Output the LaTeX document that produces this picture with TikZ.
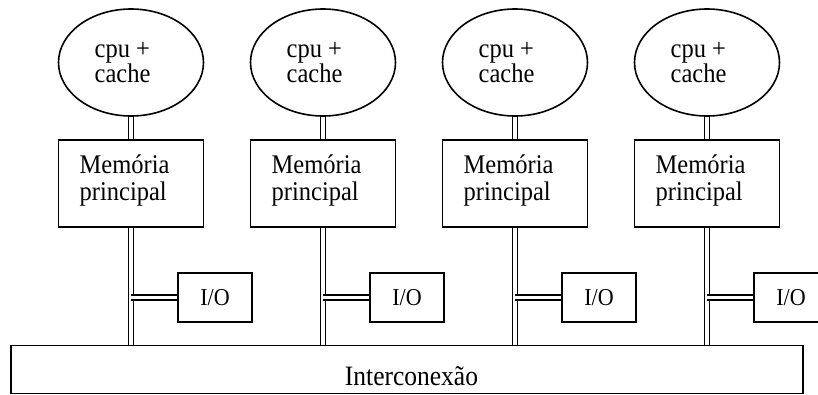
\documentclass[tikz,border=0pt]{standalone}
\usepackage{fontspec}
\usepackage{graphicx}
\setmainfont{Liberation Serif}
\usetikzlibrary{shapes.geometric}
% slightly tall lettering
\newcommand{\tallword}[1]{\scalebox{1}[1.1]{#1}}
\tikzset{
  box/.style={draw, line width=1.6pt, inner sep=0pt},
  cpu/.style={box, ellipse, minimum width=145pt, minimum height=107pt},
  mem/.style={box, rectangle, minimum width=145pt, minimum height=87pt},
  io/.style={box, rectangle, minimum width=74pt, minimum height=49pt,
    font=\fontsize{22}{26}\selectfont},
  % two-line labels, placed by the baseline of their last line
  lbl/.style={inner sep=0pt, anchor=base west, align=left},
  bus/.style={draw, line width=1.4pt, double=white, double distance=3.4pt},
}
\begin{document}
\begin{tikzpicture}[x=1pt,y=-1pt]
\useasboundingbox (0,0) rectangle (818,394);
% shared interconnect
\node[box, minimum width=791.7pt, minimum height=48pt] (inter) at (406.85,369.5) {};
\node[inner sep=0pt, anchor=base, font=\fontsize{25.5}{30}\selectfont] (interT) at (411.5,385) {\tallword{Interconexão}};
% one node per processor: cpu + cache, local memory, I/O
\foreach \i/\X in {1/131,2/323,3/515,4/707} {
  \node[cpu] (cpu\i) at (\X,62.5) {};
  \node[lbl, font=\fontsize{24.5}{23.5}\selectfont] (cpuT\i) at (\X-36.5,82.5)
    {\tallword{cpu +}\\\tallword{cache}};
  \node[mem] (mem\i) at (\X,183.5) {};
  \node[lbl, font=\fontsize{24.5}{27}\selectfont] (memT\i) at (\X-51.5,200)
    {\tallword{Memória}\\\tallword{principal}};
  \node[io] (io\i) at (\X+84,297.5) {\tallword{I/O}};
  \draw[bus] (cpu\i.south) -- (mem\i.north);
  \draw[bus] (mem\i.south) -- (mem\i.south |- inter.north);
  \draw[bus] (mem\i.south |- io\i.west) -- (io\i.west);
}
\end{tikzpicture}
\end{document}
